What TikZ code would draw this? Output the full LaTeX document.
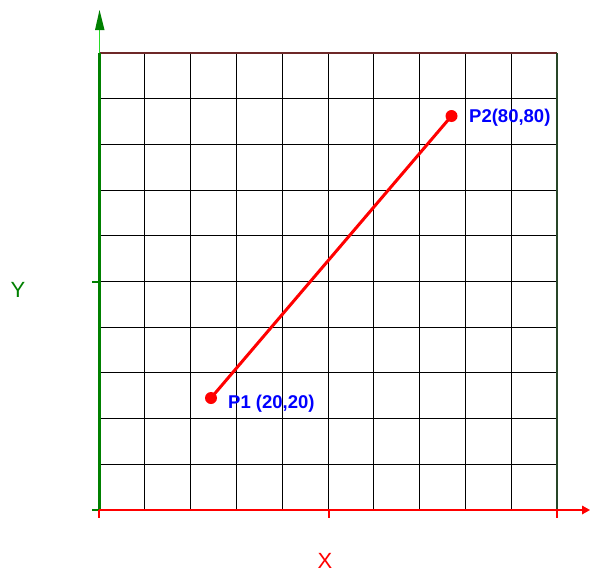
\documentclass[tikz,border=0pt]{standalone}
\usepackage{fontspec}
\setmainfont{Liberation Sans}
\definecolor{axgreen}{RGB}{0,128,0}
\definecolor{lightgreen}{RGB}{40,220,40}
\definecolor{axred}{RGB}{255,0,0}
\definecolor{lblblue}{RGB}{0,0,255}
\definecolor{topbrown}{RGB}{110,40,40}
\definecolor{rightgreen}{RGB}{40,70,40}
\tikzset{
  gridline/.style={black, line width=1pt},
  ptlabel/.style={text=lblblue, font=\fontsize{18.5}{18.5}\selectfont\bfseries, inner sep=0pt, anchor=west},
  axlabel/.style={font=\fontsize{22}{22}\selectfont, inner sep=0pt},
  segment/.style={axred, line width=3pt},
  dot/.style={fill=axred, draw=none},
}
\begin{document}
\begin{tikzpicture}[x=1pt,y=-1pt]
\useasboundingbox (0,0) rectangle (590,573);
% grid
\foreach \i in {1,...,9} {
  \draw[gridline] ({99+45.8*\i},53) -- ({99+45.8*\i},510);
  \draw[gridline] (99,{53+45.7*\i}) -- (557,{53+45.7*\i});
}
\draw[topbrown, line width=1.2pt] (99,53) -- (557,53);
\draw[rightgreen, line width=1.2pt] (557,53) -- (557,510);
% axes
\coordinate (o) at (99,510);
\coordinate (ytop) at (99,53);
\coordinate (ytip) at (99.5,10);
\coordinate (xtip) at (590,510);
\draw[axgreen, line width=3pt] (o) -- (ytop);
\draw[lightgreen, line width=1pt] (ytop) -- (99,28);
\fill[axgreen] (ytip) -- (104.5,30) -- (95,30) -- cycle;
\draw[axred, line width=1.2pt] (95,510) -- (583,510);
\fill[axred] (xtip) -- (582,505.5) -- (582,514.5) -- cycle;
% ticks
\draw[axgreen, line width=1.2pt] (92,282) -- (99,282);
\draw[axgreen, line width=1.2pt] (92,510) -- (99,510);
\foreach \x in {99,329,557} \draw[axred, line width=1.2pt] (\x,510) -- (\x,518);
% axis labels
\node[axlabel, text=axgreen] (ylbl) at (18,290) {Y};
\node[axlabel, text=axred] (xlbl) at (325,561) {X};
% segment
\coordinate (P1) at (211,398);
\coordinate (P2) at (451.5,116);
\draw[segment] (P1) -- (P2);
\fill[dot] (P1) circle (6);
\fill[dot] (P2) circle (6);
\node[ptlabel] (l1) at (228,404) {P1 (20,20)};
\node[ptlabel] (l2) at (469,118) {P2(80,80)};
\end{tikzpicture}
\end{document}
